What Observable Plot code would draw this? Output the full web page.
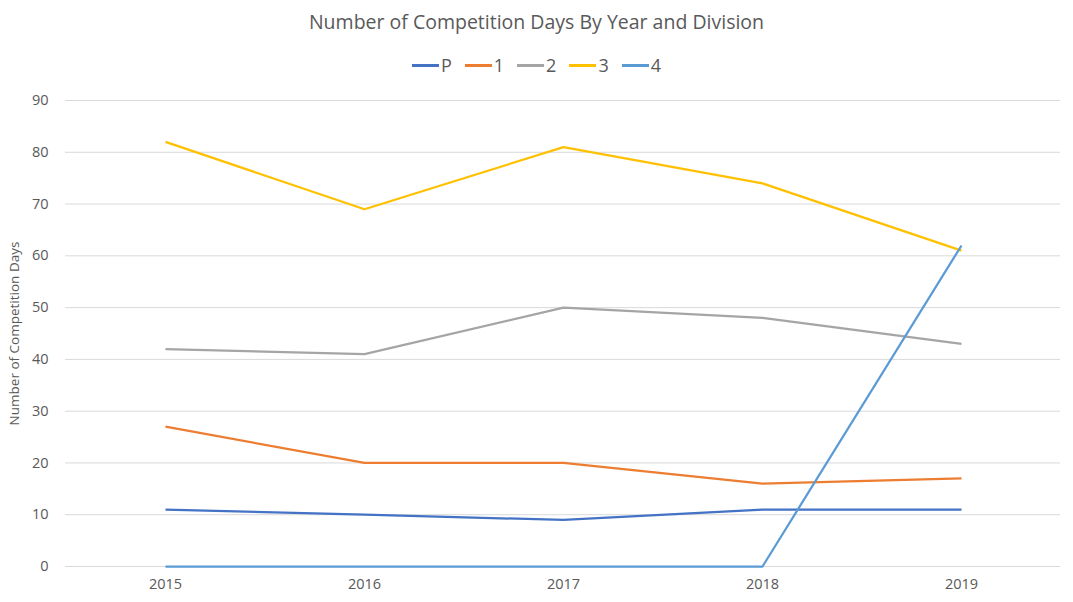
<!DOCTYPE html>
<html>
<head>
<meta charset="utf-8">
<script src="https://cdn.jsdelivr.net/npm/d3@7"></script>
<script src="https://cdn.jsdelivr.net/npm/@observablehq/plot@0.6"></script>
<style>
  html, body { margin: 0; padding: 0; background: #fff; }
  body { width: 1073px; height: 602px; overflow: hidden; font-family: "Open Sans", sans-serif; color: #595959; }
  #title { height: 44px; line-height: 44px; text-align: center; font-size: 19.5px; color: #595959; }
  #legend { height: 42px; display: flex; justify-content: center; align-items: center; gap: 13px; font-size: 18px; color: #595959; padding-left: 0px; box-sizing: border-box; }
  .item { display: flex; align-items: center; gap: 2px; }
  .sw { width: 27px; height: 3px; display: inline-block; }
</style>
</head>
<body>
<div id="title">Number of Competition Days By Year and Division</div>
<div id="legend"></div>
<div id="chart"></div>
<script>
const years = ["2015", "2016", "2017", "2018", "2019"];
const divisions = ["P", "1", "2", "3", "4"];
const colors = ["#4472C4", "#ED7D31", "#A5A5A5", "#FFC000", "#5B9BD5"];
const valuesP = [11, 10, 9, 11, 11];
const values1 = [27, 20, 20, 16, 17];
const values2 = [42, 41, 50, 48, 43];
const values3 = [82, 69, 81, 74, 61];
const values4 = [0, 0, 0, 0, 62];
const yTicks = [0, 10, 20, 30, 40, 50, 60, 70, 80, 90];

const seriesValues = [valuesP, values1, values2, values3, values4];
const data = [];
divisions.forEach((d, i) => {
  years.forEach((y, j) => data.push({division: d, year: y, value: seriesValues[i][j]}));
});

// legend
const legend = document.getElementById("legend");
divisions.forEach((d, i) => {
  const it = document.createElement("span");
  it.className = "item";
  it.innerHTML = `<span class="sw" style="background:${colors[i]}"></span><span>${d}</span>`;
  legend.appendChild(it);
});

const chart = Plot.plot({
  width: 1073,
  height: 516,
  marginTop: 14,
  marginBottom: 36,
  marginLeft: 65,
  marginRight: 13,
  style: {fontFamily: "Open Sans, sans-serif", fontSize: "13.5px", color: "#595959", background: "#fff"},
  x: {type: "point", domain: years, padding: 0.5, label: null, tickSize: 0, tickPadding: 12},
  y: {domain: [0, 90], ticks: yTicks, tickSize: 0, tickPadding: 17, label: "Number of Competition Days", labelAnchor: "center", labelOffset: 56, labelArrow: "none"},
  color: {domain: divisions, range: colors},
  marks: [
    Plot.ruleY(yTicks, {stroke: "#d9d9d9", strokeWidth: 1}),
    Plot.line(data, {x: "year", y: "value", z: "division", stroke: "division", strokeWidth: 2.25, strokeLinejoin: "round", strokeLinecap: "butt"})
  ]
});
chart.querySelectorAll("g[aria-label='y-axis tick label'] text, g[aria-label='x-axis tick label'] text").forEach(t => t.style.fontSize = "14.5px");
document.getElementById("chart").appendChild(chart);
</script>
</body>
</html>
